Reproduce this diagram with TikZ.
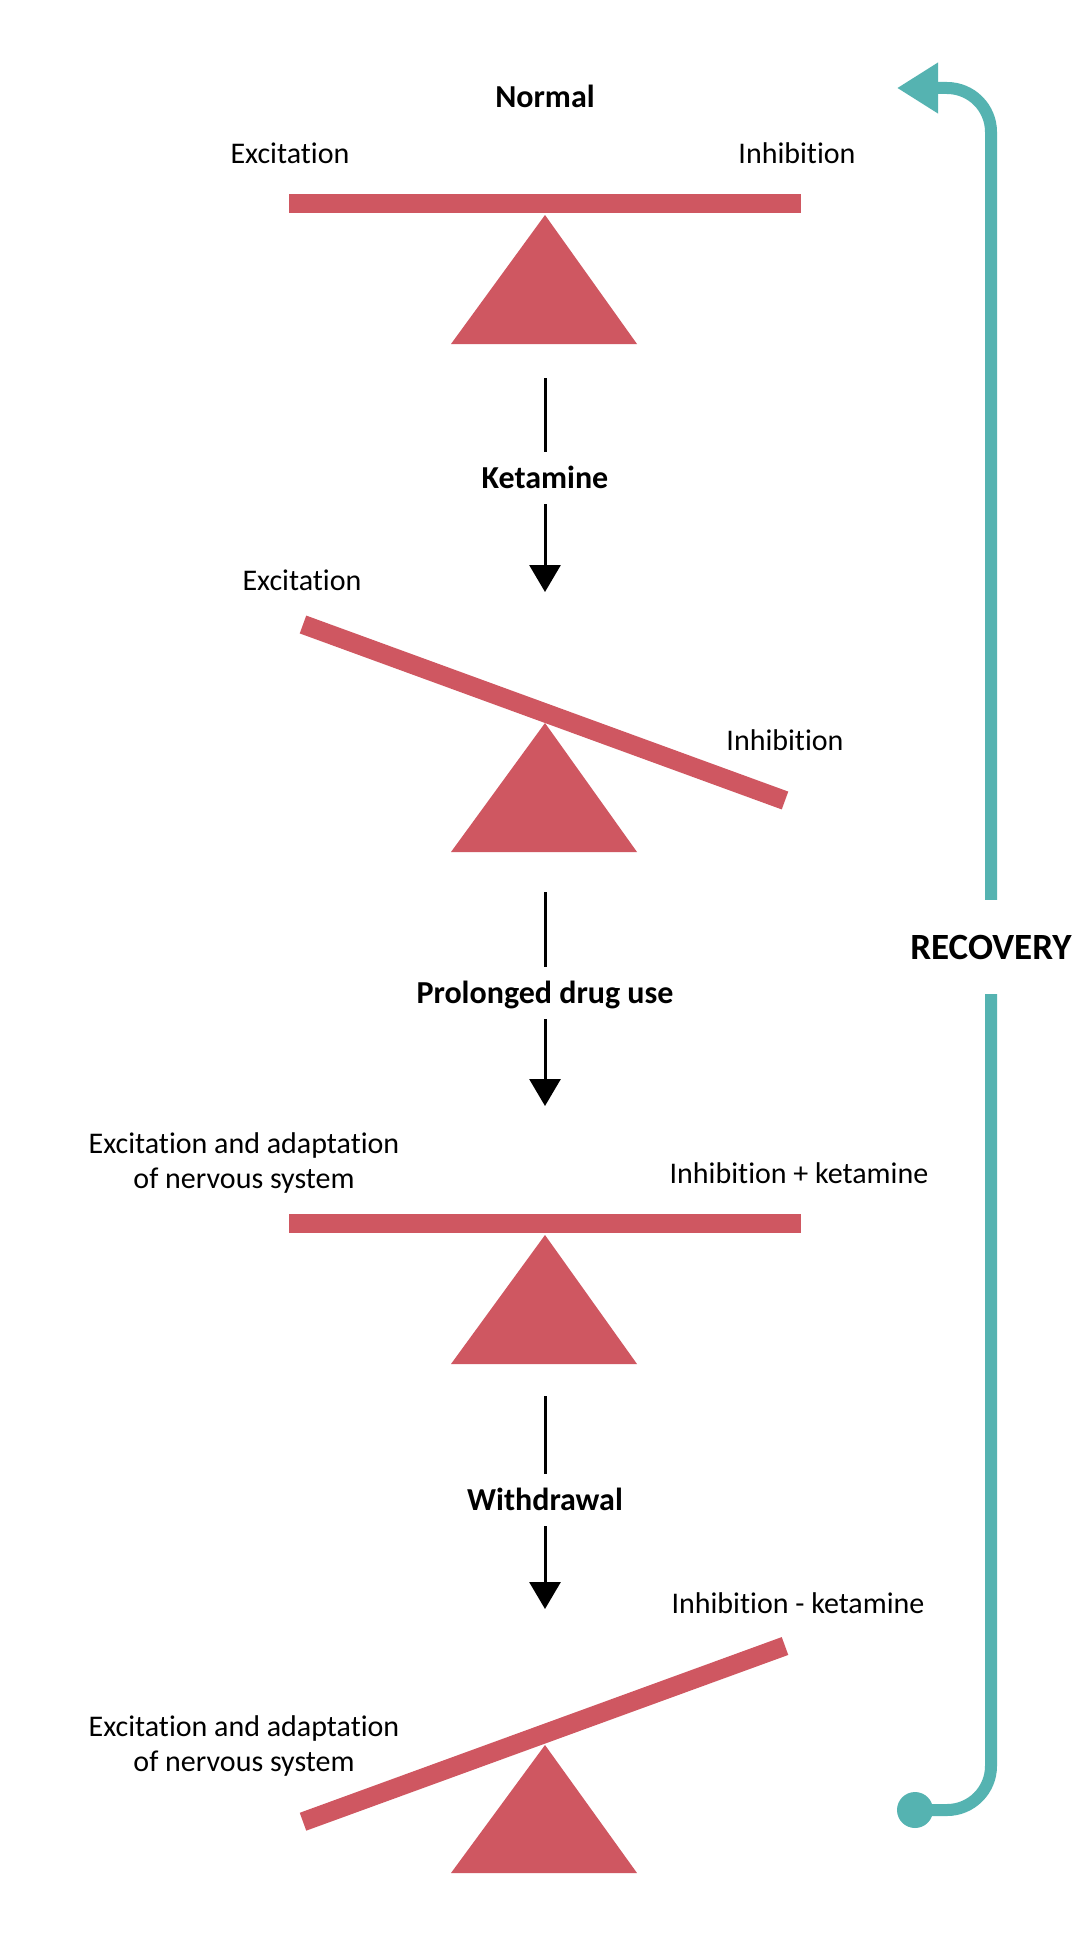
\documentclass[tikz,border=0pt]{standalone}
\usepackage{fontspec}
\setmainfont{Carlito}[Ligatures=NoCommon, RawFeature={-liga;-clig;-dlig}]
\usetikzlibrary{arrows.meta}
\definecolor{beamred}{HTML}{CF5761}
\definecolor{recteal}{HTML}{55B3B1}
\begin{document}
\begin{tikzpicture}[x=1pt,y=-1pt,
  lbl/.style={anchor=base, inner sep=0pt, font=\fontsize{30}{36}\selectfont},
  steplbl/.style={anchor=base, font=\fontsize{32}{38}\bfseries\selectfont, text height=20pt, text depth=0pt, inner xsep=0pt, inner ysep=16pt},
  flow/.style={line width=3pt, draw=black},
  flowarrow/.style={flow, -{Triangle[length=27pt,width=31pt]}},
  beam/.style={draw=beamred, line width=19pt},
  fulcrum/.style={fill=beamred},
  recline/.style={draw=recteal, line width=12pt, rounded corners=44pt},
]
\useasboundingbox (0,0) rectangle (1080,1940);
\fill[white] (0,0) rectangle (1080,1940);

% ---- stage 1: Normal
\node[lbl, font=\fontsize{32}{38}\bfseries\selectfont] (normal) at (545,108) {Normal};
\node[lbl] (exc1) at (290,164) {Excitation};
\node[lbl] (inh1) at (797,164) {Inhibition};
\fill[fulcrum] (545,215) -- (637,344) -- (451,344) -- cycle;
\draw[beam] (289,203.5) -- (801,203.5);

% ---- arrow: Ketamine
\coordinate (k1) at (545,378);
\node[steplbl] (ket) at (545,488) {Ketamine};
\coordinate (k2) at (545,592);
\draw[flow] (k1) -- (ket.north);
\draw[flowarrow] (ket.south) -- (k2);

% ---- stage 2
\node[lbl] (exc2) at (302,590) {Excitation};
\node[lbl] (inh2) at (785,750) {Inhibition};
\fill[fulcrum] (545,723) -- (637,852) -- (451,852) -- cycle;
\draw[beam] (303,624.5) -- (785,800.5);

% ---- arrow: Prolonged drug use
\coordinate (p1) at (545,892);
\node[steplbl] (pro) at (545,1003) {Prolonged drug use};
\coordinate (p2) at (545,1106);
\draw[flow] (p1) -- (pro.north);
\draw[flowarrow] (pro.south) -- (p2);

% ---- stage 3
\node[lbl] (exc3a) at (244,1153) {Excitation and adaptation};
\node[lbl] (exc3b) at (244,1188) {of nervous system};
\node[lbl] (inh3) at (799,1183) {Inhibition + ketamine};
\fill[fulcrum] (545,1235) -- (637,1364) -- (451,1364) -- cycle;
\draw[beam] (289,1223.5) -- (801,1223.5);

% ---- arrow: Withdrawal
\coordinate (w1) at (545,1396);
\node[steplbl] (wd) at (545,1510) {Withdrawal};
\coordinate (w2) at (545,1609);
\draw[flow] (w1) -- (wd.north);
\draw[flowarrow] (wd.south) -- (w2);

% ---- stage 4
\node[lbl] (inh4) at (798,1613) {Inhibition - ketamine};
\node[lbl] (exc4a) at (244,1736) {Excitation and adaptation};
\node[lbl] (exc4b) at (244,1771) {of nervous system};
\fill[fulcrum] (545,1745) -- (637,1873) -- (451,1873) -- cycle;
\draw[beam] (303,1821.7) -- (785,1646);

% ---- recovery loop
\node[anchor=base, font=\fontsize{37}{44}\bfseries\selectfont, text height=24pt, text depth=0pt, inner xsep=0pt, inner ysep=35pt] (rec) at (991,959) {RECOVERY};
\node[circle, fill=recteal, minimum size=36pt, inner sep=0pt] (dot) at (915,1810) {};
\draw[recline] (dot.center) -- (991,1810) -- (rec.south);
\draw[recline, -{Triangle[length=41pt,width=48pt]}] (rec.north) -- (991,88) -- (897,88);
\end{tikzpicture}
\end{document}
